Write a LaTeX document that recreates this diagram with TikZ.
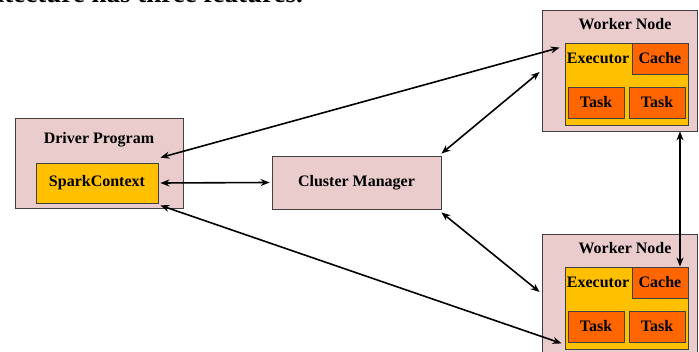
\documentclass[tikz,border=0pt]{standalone}
\usepackage{fontspec}
\setmainfont{Liberation Serif}
\usetikzlibrary{arrows.meta,calc}
\definecolor{pinkbox}{HTML}{EACCCC}
\definecolor{sparkyellow}{HTML}{FFC000}
\definecolor{taskorange}{HTML}{FF6600}
\definecolor{edgegray}{HTML}{404040}
\begin{document}
\begin{tikzpicture}[x=1pt,y=-1pt,
  lbl/.style={font=\fontsize{16}{19}\selectfont\bfseries, text=black},
  outerbox/.style={draw=edgegray, line width=0.8pt, fill=pinkbox, inner sep=0pt},
  execbox/.style={draw=edgegray, line width=0.8pt, fill=sparkyellow, inner sep=0pt},
  orangebox/.style={draw=edgegray, line width=0.8pt, fill=taskorange, inner sep=0pt, minimum width=56pt, minimum height=31pt, lbl},
  link/.style={line width=1.6pt, {Stealth[length=9pt,width=7pt]}-{Stealth[length=9pt,width=7pt]}}
]
\useasboundingbox (0,0) rectangle (699,352);
\node[anchor=base east, inner sep=0pt, font=\fontsize{27}{32}\selectfont\bfseries] (caption) at (303,3) {itecture has three features.};

% Driver
\node[outerbox, minimum width=168pt, minimum height=90pt] (driver) at (99,163) {};
\node[lbl] (driverlbl) at (99,140) {Driver Program};
\node[execbox, minimum width=122pt, minimum height=40pt, lbl] (spark) at (97,183) {SparkContext};

% Cluster manager
\node[outerbox, minimum width=169pt, minimum height=53pt, lbl] (cluster) at (356.5,182.5) {Cluster Manager};

% Worker 1
\node[outerbox, minimum width=155pt, minimum height=121pt] (w1) at (619.5,70.5) {};
\node[lbl] (w1lbl) at (625,24) {Worker Node};
\node[execbox, minimum width=123pt, minimum height=82pt] (exec1) at (626.5,84) {};
\node[lbl] (exec1lbl) at (598,58) {Executor};
\node[orangebox] (cache1) at (660,58.5) {Cache};
\node[orangebox] (task1a) at (596,102.5) {Task};
\node[orangebox] (task1b) at (657,102.5) {Task};

% Worker 2
\node[outerbox, minimum width=155pt, minimum height=121pt] (w2) at (619.5,294.5) {};
\node[lbl] (w2lbl) at (625,248) {Worker Node};
\node[execbox, minimum width=123pt, minimum height=82pt] (exec2) at (626.5,308) {};
\node[lbl] (exec2lbl) at (598,282) {Executor};
\node[orangebox] (cache2) at (660,282.5) {Cache};
\node[orangebox] (task2a) at (596,326.5) {Task};
\node[orangebox] (task2b) at (657,326.5) {Task};

% Connectors
\draw[link] ($(spark.north east)+(2,-5)$) -- ($(exec1.north west)+(-5,5)$);
\draw[link] ([xshift=2pt]spark.east) -- ([xshift=-2pt]cluster.west);
\draw[link] ($(cluster.north east)+(0,-2)$) -- ($(w1.west)+(-2,1.5)$);
\draw[link] ($(cluster.south east)+(0,3)$) -- ($(w2.west)+(-2,-2.5)$);
\draw[link] ($(spark.south east)+(2,2)$) -- ($(exec2.south west)+(-3,-6)$);
\coordinate (vlink) at ([xshift=20pt]cache2.north);
\draw[link] (vlink |- w1.south) -- (vlink);
\end{tikzpicture}
\end{document}
